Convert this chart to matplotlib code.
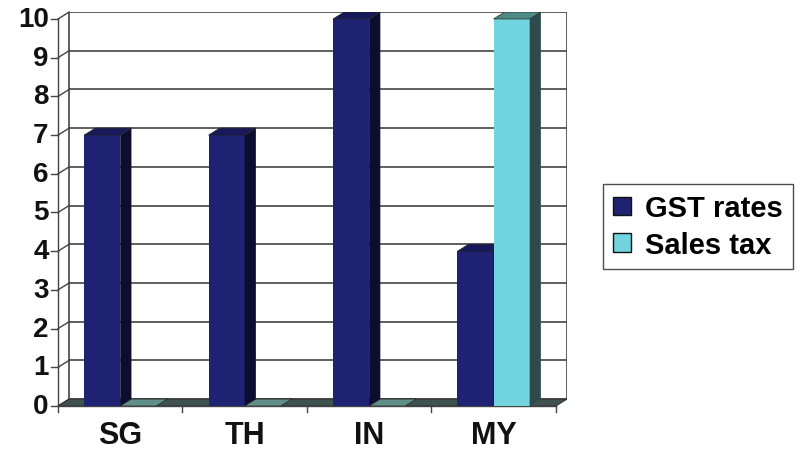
import matplotlib
matplotlib.use('Agg')
import matplotlib.pyplot as plt
from matplotlib.patches import Polygon, Patch

countries = ['SG', 'TH', 'IN', 'MY']
gst_rates = [7, 7, 10, 4]
sales_tax = [0, 0, 0, 10]
yticks = list(range(0, 11))

navy = '#1f2272'
navy_side = '#0d0e2e'
navy_top = '#17195a'
cyan = '#72d4de'
cyan_side = '#2f4a4a'
cyan_top = '#4e8a86'
floor_col = '#3f524e'

# depth offset of the 3d look, in data units
dx, dy = 0.09, 0.18
w = 0.29

plt.rcParams['font.family'] = ['Liberation Sans', 'DejaVu Sans']
fig = plt.figure(figsize=(7.98, 4.52), dpi=100)
ax = fig.add_axes([58 / 798, 45 / 452, 509 / 798, 394 / 452])
n = len(countries)
ax.set_xlim(0, n + dx)
ax.set_ylim(0, 10 + dy)
ax.axis('off')

# floor
ax.add_patch(Polygon([(0, 0), (n, 0), (n + dx, dy), (dx, dy)], closed=True,
                     facecolor=floor_col, edgecolor='#333333', lw=0.8, zorder=1))

# back wall grid and side wall lines
for v in yticks:
    ax.plot([dx, n + dx], [v + dy, v + dy], color='#444444', lw=1.2, zorder=0)
    ax.plot([0, dx], [v, v + dy], color='#444444', lw=1.0, zorder=0, clip_on=False)
    ax.plot([-0.06, 0], [v, v], color='#444444', lw=1.0, zorder=0, clip_on=False)
ax.plot([dx, dx], [dy, 10 + dy], color='#444444', lw=1.2, zorder=0)
ax.plot([n + dx, n + dx], [dy, 10 + dy], color='#444444', lw=1.2, zorder=0)
ax.plot([0, 0], [0, 10], color='#444444', lw=1.0, zorder=0, clip_on=False)
ax.plot([0, n], [0, 0], color='#444444', lw=1.0, zorder=2, clip_on=False)
for i in range(n + 1):
    ax.plot([i, i], [0, -0.15], color='#444444', lw=1.0, zorder=2, clip_on=False)

xs = [i + 0.5 for i in range(n)]
b1 = ax.bar([x - w / 2 for x in xs], gst_rates, width=w, color=navy, zorder=3)
b2 = ax.bar([x + w / 2 for x in xs], sales_tax, width=w, color=cyan, zorder=3)


def faces(bar, side_c, top_c, z):
    x0 = bar.get_x()
    x1 = x0 + bar.get_width()
    h = bar.get_height()
    if h > 0:
        ax.add_patch(Polygon([(x1, 0), (x1 + dx, dy), (x1 + dx, h + dy), (x1, h)],
                             closed=True, facecolor=side_c, edgecolor='none', zorder=z))
    ax.add_patch(Polygon([(x0, h), (x1, h), (x1 + dx, h + dy), (x0 + dx, h + dy)],
                         closed=True, facecolor=top_c, edgecolor='#222222', lw=0.5, zorder=z))


for i in range(n):
    z = 3 + i * 2
    b1[i].set_zorder(z)
    faces(b1[i], navy_side, navy_top, z)
    b2[i].set_zorder(z + 1)
    faces(b2[i], cyan_side, cyan_top if sales_tax[i] > 0 else '#5f8f88', z + 1)

for v in yticks:
    ax.text(-0.075, v, str(v), ha='right', va='center', fontsize=20,
            fontweight='bold', color='#111111')
for x, c in zip(xs, countries):
    ax.text(x, -0.74, c, ha='center', va='center', fontsize=22,
            fontweight='bold', color='#111111')

handles = [Patch(facecolor=navy, edgecolor='#111111', label='GST rates'),
           Patch(facecolor=cyan, edgecolor='#111111', label='Sales tax')]
leg = fig.legend(handles=handles, loc='upper left', bbox_to_anchor=(603 / 798, 1 - 185 / 452),
                 prop={'weight': 'bold', 'size': 21}, frameon=True,
                 fancybox=False, edgecolor='#222222', handlelength=0.6, handleheight=0.6,
                 handletextpad=0.5, borderpad=0.35, labelspacing=0.3, borderaxespad=0)
leg.get_frame().set_linewidth(1.0)

fig.savefig('out.png', dpi=100)
